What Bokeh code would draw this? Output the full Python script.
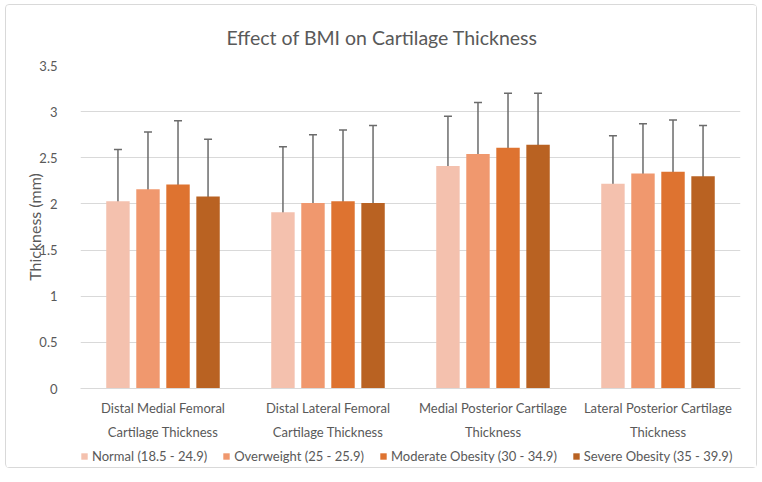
from bokeh.plotting import figure
from bokeh.layouts import column
from bokeh.models import ColumnDataSource, FactorRange, Whisker, TeeHead, Legend, LegendItem, Range1d
from bokeh.transform import dodge
from bokeh.embed import file_html
from bokeh.resources import INLINE

categories = ["Distal Medial Femoral\nCartilage Thickness",
              "Distal Lateral Femoral\nCartilage Thickness",
              "Medial Posterior Cartilage\nThickness",
              "Lateral Posterior Cartilage\nThickness"]
series = ["Normal (18.5 - 24.9)", "Overweight (25 - 25.9)",
          "Moderate Obesity (30 - 34.9)", "Severe Obesity (35 - 39.9)"]
normal = [2.03, 1.91, 2.41, 2.22]
overweight = [2.16, 2.01, 2.54, 2.33]
moderate = [2.21, 2.03, 2.61, 2.35]
severe = [2.08, 2.01, 2.64, 2.30]
sd_normal = [0.56, 0.71, 0.54, 0.52]
sd_overweight = [0.62, 0.74, 0.56, 0.54]
sd_moderate = [0.69, 0.77, 0.59, 0.56]
sd_severe = [0.62, 0.84, 0.56, 0.55]
y_ticks = [0, 0.5, 1, 1.5, 2, 2.5, 3, 3.5]

colors = ["#F4C1AE", "#F0986E", "#DE7330", "#B96222"]
FONT = "Lato"
TXT = "#595959"
W, HM, HL = 750, 439, 23

p = figure(x_range=FactorRange(*categories), y_range=Range1d(0, 3.5),
           width=W, height=HM, output_backend="svg", toolbar_location=None,
           min_border_left=74, min_border_right=16, min_border_top=60,
           min_border_bottom=HM - 383)
p.title.text = "Effect of BMI on Cartilage Thickness"
p.title.align = "left"
p.title.offset = 146
p.title.text_font = FONT
p.title.text_font_size = "19.5px"
p.title.text_font_style = "normal"
p.title.text_color = TXT
p.title.standoff = 34
p.outline_line_color = None
p.xgrid.grid_line_color = None
p.ygrid.grid_line_color = "#d9d9d9"
p.ygrid.grid_line_width = 1

p.yaxis.ticker = y_ticks
p.yaxis.major_label_overrides = {0: "0", 1: "1", 2: "2", 3: "3"}
p.yaxis.axis_line_color = None
p.yaxis.major_tick_line_color = None
p.yaxis.minor_tick_line_color = None
p.yaxis.major_label_text_font = FONT
p.yaxis.major_label_text_font_size = "13px"
p.yaxis.major_label_text_color = TXT
p.yaxis.major_label_standoff = 17
p.yaxis.axis_label = "Thickness (mm)"
p.yaxis.axis_label_text_font = FONT
p.yaxis.axis_label_text_font_size = "16px"
p.yaxis.axis_label_text_font_style = "normal"
p.yaxis.axis_label_text_color = TXT
p.yaxis.axis_label_standoff = -8

p.xaxis.axis_line_color = "#d9d9d9"
p.xaxis.major_tick_line_color = None
p.xaxis.minor_tick_line_color = None
p.xaxis.major_label_text_font = FONT
p.xaxis.major_label_text_font_size = "13px"
p.xaxis.major_label_text_color = TXT
p.xaxis.major_label_text_line_height = 1.5
p.xaxis.major_label_standoff = 5

values = [normal, overweight, moderate, severe]
sds = [sd_normal, sd_overweight, sd_moderate, sd_severe]
offsets = [-0.273, -0.091, 0.091, 0.273]

for name, vals, sd, col, off in zip(series, values, sds, colors, offsets):
    src = ColumnDataSource(dict(cat=categories, val=vals,
                                lo=[v - s for v, s in zip(vals, sd)],
                                hi=[v + s for v, s in zip(vals, sd)]))
    p.vbar(x=dodge("cat", off, range=p.x_range), top="val", width=0.142,
           source=src, fill_color=col, line_color=None)
    w = Whisker(base=dodge("cat", off, range=p.x_range), lower="lo", upper="hi",
                source=src, line_color="#6b6b6b", line_width=1.5,
                upper_head=TeeHead(size=8, line_color="#6b6b6b", line_width=1.5),
                lower_head=TeeHead(size=8, line_color="#6b6b6b", line_width=1.5))
    p.add_layout(w)

# legend strip (its own small figure so that the legend is not clipped)
lg = figure(width=W, height=HL, output_backend="svg", toolbar_location=None,
            x_range=Range1d(0, 1), y_range=Range1d(0, 1),
            x_axis_location=None, y_axis_location=None,
            min_border_left=0, min_border_right=0, min_border_top=0, min_border_bottom=0)
lg.grid.visible = False
lg.outline_line_color = None
items = []
for name, col in zip(series, colors):
    r = lg.vbar(x=[0.5], top=[0], width=0.01, fill_color=col, line_color=None)
    items.append(LegendItem(label=name, renderers=[r]))
legend = Legend(items=items, orientation="horizontal", location=(0, 3),
                label_text_font=FONT, label_text_font_size="13px", label_text_color=TXT,
                glyph_width=8, glyph_height=8, label_standoff=4, spacing=15,
                border_line_color=None, background_fill_alpha=0, padding=0, margin=0)
lg.add_layout(legend)

layout = column(p, lg, spacing=0,
                styles={"border": "1px solid #d9d9d9", "border-radius": "4px",
                        "margin": "4px 0 0 5px"})
open("out.html", "w").write(file_html(layout, INLINE))
